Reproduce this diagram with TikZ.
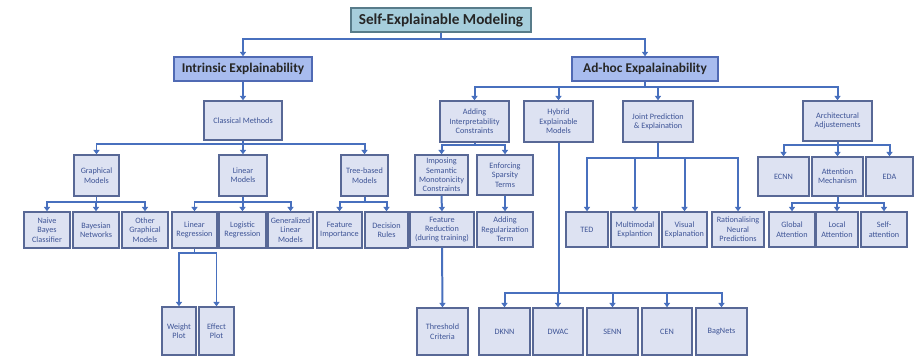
\documentclass[tikz,border=0pt]{standalone}
\usepackage{fontspec}
\setmainfont{Carlito}
\usepackage{tikz}
\usetikzlibrary{arrows.meta}
\usetikzlibrary{calc}
\definecolor{boxfill}{RGB}{221,226,242}
\definecolor{boxedge}{RGB}{88,104,150}
\definecolor{boxtext}{RGB}{62,84,150}
\definecolor{linkblue}{RGB}{72,112,190}
\definecolor{rootfill}{RGB}{166,206,220}
\definecolor{rootedge}{RGB}{88,124,138}
\definecolor{topfill}{RGB}{168,188,238}
\definecolor{topedge}{RGB}{80,106,180}
\tikzset{
    box/.style={draw=boxedge, fill=boxfill, line width=1.2pt, inner sep=0pt,
        align=center, text=boxtext, font=\fontsize{7}{8}\selectfont},
    rootbox/.style={box, draw=rootedge, fill=rootfill, text=black!85,
        font=\fontsize{13}{15}\selectfont\bfseries},
    topbox/.style={box, draw=topedge, fill=topfill, text=black!85,
        font=\fontsize{11.4}{13}\selectfont\bfseries},
    line/.style={draw=linkblue, line width=1.7pt},
    link/.style={line, -{Triangle[width=1.8mm,length=1.3mm]}}
}
% box from its corners (x1,y1) to (x2,y2), in pixels
\newcommand{\bx}[7][box]{\node[#1, minimum width={(#5-#3)*0.3mm}, minimum height={(#6-#4)*0.3mm}]
    (#2) at ({(#3+#5)/2}, {(#4+#6)/2}) {#7};}
% parent to a row of children over one bus
\newcommand{\bus}[3]{\draw[line] (#1.south) -- ++(0,#2) coordinate (#1-bus);
    \foreach \c in {#3} {
        \draw[link] (#1-bus) -| (\c.north);
    }
}

\begin{document}
\begin{tikzpicture}[x=0.3mm, y=-0.3mm]
    \useasboundingbox (0,0) rectangle (914,361);

    % Draw top levels
    \bx[rootbox]{root}{351}{8}{531}{32}{Self-Explainable Modeling}
    \bx[topbox]{intr}{174}{57}{312}{81}{Intrinsic Explainability}
    \bx[topbox]{adhoc}{572}{57}{718}{81}{Ad-hoc Expalainability}

    % Draw intrinsic side
    \bx{classic}{204}{101}{282}{140}{Classical Methods}
    \bx{graph}{74}{155}{119}{196}{Graphical\\Models}
    \bx{linmod}{219}{155}{267}{196}{Linear\\Models}
    \bx{tree}{341}{155}{388}{196}{Tree-based\\Models}
    \bx{bayes}{24}{212}{70}{248}{Naive\\Bayes\\Classifier}
    \bx{bnet}{73}{212}{119}{248}{Bayesian\\Networks}
    \bx{othgraph}{122}{212}{168}{248}{Other\\Graphical\\Models}
    \bx{linreg}{172}{212}{217}{248}{Linear\\Regression}
    \bx{logreg}{219}{212}{266}{248}{Logistic\\Regression}
    \bx{glm}{268}{212}{313}{248}{Generalized\\Linear\\Models}
    \bx{featimp}{317}{212}{362}{248}{Feature\\Importance}
    \bx{decrule}{365}{212}{408}{248}{Decision\\Rules}
    \bx{weight}{162}{307}{196}{355}{Weight\\Plot}
    \bx{effect}{199}{307}{234}{355}{Effect\\Plot}

    % Draw ad-hoc side
    \bx{adding}{440}{101}{509}{142}{Adding\\Interpretability\\Constraints}
    \bx{hybrid}{524}{101}{593}{142}{Hybrid\\Explainable\\Models}
    \bx{joint}{623}{101}{693}{142}{Joint Prediction\\\& Explaination}
    \bx{arch}{803}{101}{872}{141}{Architectural\\Adjustements}
    \bx{impose}{415}{155}{468}{195}{Imposing\\Semantic\\Monotonicity\\Constraints}
    \bx{enforce}{477}{155}{533}{195}{Enforcing\\Sparsity\\Terms}
    \bx{featred}{410}{212}{474}{247}{Feature\\Reduction\\(during training)}
    \bx{addreg}{477}{212}{533}{247}{Adding\\Regularization\\Term}
    \bx{thresh}{417}{308}{468}{355}{Threshold\\Criteria}
    \bx{ted}{566}{212}{608}{247}{TED}
    \bx{multi}{611}{212}{659}{247}{Multimodal\\Explantion}
    \bx{visual}{662}{212}{707}{247}{Visual\\Explanation}
    \bx{ration}{712}{212}{764}{247}{Rationalising\\Neural\\Predictions}
    \bx{ecnn}{758}{157}{809}{196}{ECNN}
    \bx{attn}{812}{157}{863}{196}{Attention\\Mechanism}
    \bx{eda}{866}{157}{913}{196}{EDA}
    \bx{global}{769}{212}{815}{247}{Global\\Attention}
    \bx{local}{816}{212}{858}{247}{Local\\Attention}
    \bx{self}{861}{212}{907}{247}{Self-\\attention}
    \bx{dknn}{479}{308}{530}{355}{DKNN}
    \bx{dwac}{533}{308}{583}{355}{DWAC}
    \bx{senn}{587}{308}{638}{355}{SENN}
    \bx{cen}{642}{308}{692}{355}{CEN}
    \bx{bagnets}{696}{308}{747}{355}{BagNets}

    % Draw connectors
    \bus{root}{6}{intr,adhoc}
    \draw[link] (intr.south) -- (classic.north);
    \bus{classic}{3.5}{graph,linmod,tree}
    \bus{graph}{5}{bayes,bnet,othgraph}
    \bus{linmod}{5}{linreg,logreg,glm}
    \bus{tree}{5}{featimp,decrule}
    \bus{linreg}{4}{weight,effect}
    \bus{adhoc}{5}{adding,hybrid,joint,arch}
    \bus{adding}{2.5}{impose,enforce}
    \draw[link] (impose.south) -- (featred.north);
    \draw[link] (enforce.south) -- (addreg.north);
    \draw[link] (featred.south) -- (thresh.north);
    \bus{hybrid}{150}{dknn,dwac,senn,cen,bagnets}
    \bus{joint}{15}{ted,multi,visual,ration}
    \bus{arch}{3}{ecnn,attn,eda}
    \bus{attn}{6}{global,local,self}
\end{tikzpicture}
\end{document}
